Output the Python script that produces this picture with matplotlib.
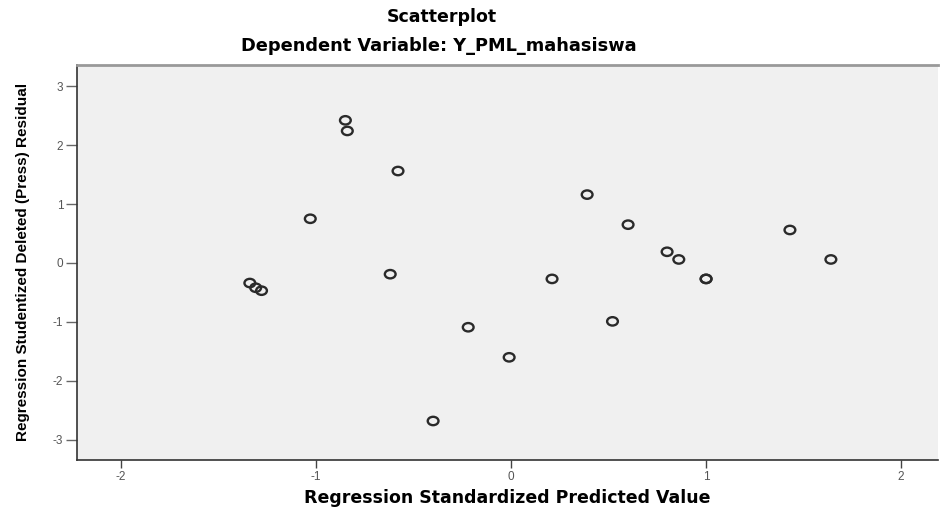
"""SPSS-style residual scatterplot."""
import matplotlib
matplotlib.use("Agg")
from matplotlib import pyplot as plt
from matplotlib.path import Path
from matplotlib.transforms import Affine2D

# standardized predicted values and studentized deleted residuals
pred_std = [-0.85, -0.84, -0.58, -1.03, -0.62, -1.34, -1.31, -1.28,
            -0.22, -0.01, -0.40, 0.39, 0.60, 0.80, 0.86, 0.21,
            1.00, 1.00, 0.52, 1.43, 1.64]
press_resid = [2.42, 2.24, 1.56, 0.75, -0.19, -0.34, -0.42, -0.47,
               -1.09, -1.60, -2.68, 1.16, 0.65, 0.19, 0.06, -0.27,
               -0.27, -0.27, -0.99, 0.56, 0.06]
x_ticks = [-2, -1, 0, 1, 2]
y_ticks = [-3, -2, -1, 0, 1, 2, 3]

plt.rcParams["font.family"] = ["Liberation Sans", "DejaVu Sans"]
plt.rcParams["axes.unicode_minus"] = False

# SPSS draws slightly flattened open circles
ellipse = Path.unit_circle().transformed(Affine2D().scale(1.0, 0.78))

fig = plt.figure(figsize=(9.4, 5.11), dpi=100)
ax = fig.add_axes([0.082, 0.1, 0.916, 0.773])
ax.set_facecolor("#f0f0f0")

ax.scatter(pred_std, press_resid, s=60, marker=ellipse, facecolors="none",
           edgecolors="#2a2a2a", linewidths=1.7, zorder=3)

ax.set_xlim(-2.226, 2.19)
ax.set_ylim(-3.34, 3.36)
ax.set_xticks(x_ticks)
ax.set_yticks(y_ticks)
ax.tick_params(axis="y", direction="out", length=8, width=1, pad=2,
               color="#666666", labelsize=8.5, labelcolor="#555555")
ax.tick_params(axis="x", direction="out", length=6, width=1, pad=2,
               color="#444444", labelsize=8.5, labelcolor="#555555")

for side in ("left", "bottom"):
    ax.spines[side].set_color("#333333")
    ax.spines[side].set_linewidth(1.2)
ax.spines["top"].set_color("#999999")
ax.spines["top"].set_linewidth(2)
ax.spines["right"].set_visible(False)

ax.set_xlabel("Regression Standardized Predicted Value", family="DejaVu Sans",
              fontsize=12.5, fontweight="bold", labelpad=4)
ax.set_ylabel("Regression Studentized Deleted (Press) Residual",
              fontsize=11, fontweight="bold", labelpad=16)

fig.text(0.47, 0.967, "Scatterplot", ha="center", va="center",
         family="DejaVu Sans", fontsize=12.5, fontweight="bold")
fig.text(0.467, 0.91, "Dependent Variable: Y_PML_mahasiswa", ha="center",
         va="center", family="DejaVu Sans", fontsize=12.8, fontweight="bold")

fig.savefig("out.png", dpi=100)
plt.close(fig)
